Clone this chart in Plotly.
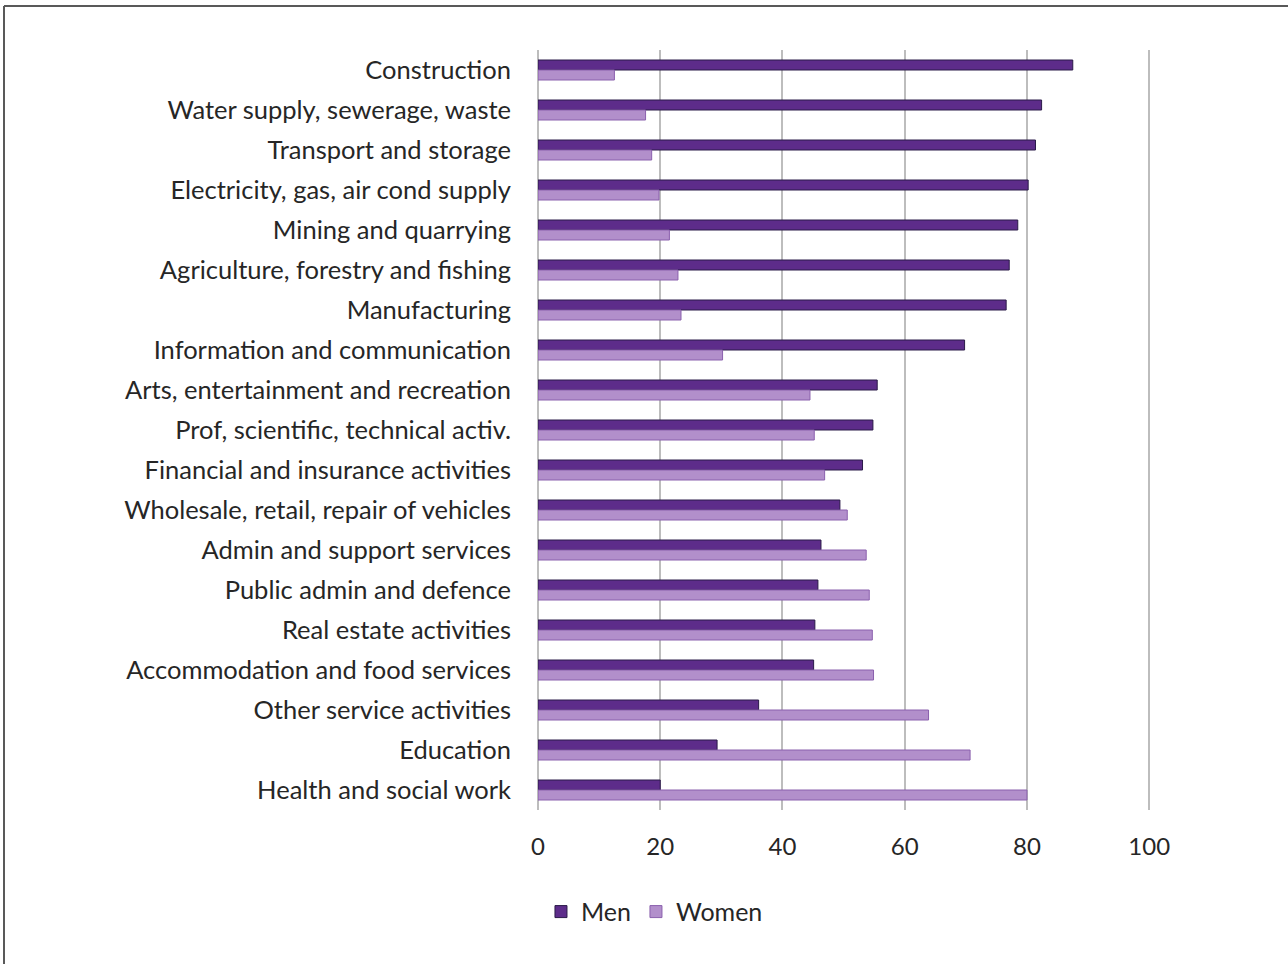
import plotly.graph_objects as go

categories = [
    "Construction",
    "Water supply, sewerage, waste",
    "Transport and storage",
    "Electricity, gas, air cond supply",
    "Mining and quarrying",
    "Agriculture, forestry and fishing",
    "Manufacturing",
    "Information and communication",
    "Arts, entertainment and recreation",
    "Prof, scientific, technical activ.",
    "Financial and insurance activities",
    "Wholesale, retail, repair of vehicles",
    "Admin and support services",
    "Public admin and defence",
    "Real estate activities",
    "Accommodation and food services",
    "Other service activities",
    "Education",
    "Health and social work",
]
men = [87.5, 82.4, 81.4, 80.2, 78.5, 77.1, 76.6, 69.8, 55.5, 54.8,
       53.1, 49.4, 46.3, 45.8, 45.3, 45.1, 36.1, 29.3, 20.0]
women = [12.5, 17.6, 18.6, 19.8, 21.5, 22.9, 23.4, 30.2, 44.5, 45.2,
         46.9, 50.6, 53.7, 54.2, 54.7, 54.9, 63.9, 70.7, 80.0]
x_ticks = [0, 20, 40, 60, 80, 100]

FONT = "Lato, Open Sans, sans-serif"
TXT = "#262626"

fig = go.Figure()
fig.add_trace(go.Bar(
    y=categories, x=men, name="Men", orientation="h",
    marker=dict(color="#5d2c8a", line=dict(color="#2a1a48", width=1)),
))
fig.add_trace(go.Bar(
    y=categories, x=women, name="Women", orientation="h",
    marker=dict(color="#b28fcb", line=dict(color="#8a60ad", width=1)),
))

fig.update_layout(
    width=1288, height=964,
    margin=dict(l=538, r=137, t=50, b=154),
    paper_bgcolor="white", plot_bgcolor="white",
    barmode="group", bargap=0.5, bargroupgap=0,
    font=dict(family=FONT, color=TXT, size=24),
    legend=dict(orientation="h", x=0.19, xanchor="center", y=-0.134,
                yanchor="middle", font=dict(size=25, family=FONT, color=TXT),
                itemwidth=30, tracegroupgap=0),
    shapes=[
        dict(type="line", xref="paper", yref="paper",
             x0=-534/613, x1=(1288-538)/613, y0=1 + 44/760, y1=1 + 44/760,
             line=dict(color="#595959", width=2)),
        dict(type="line", xref="paper", yref="paper",
             x0=-534/613, x1=-534/613, y0=1 + 44/760, y1=-154/760,
             line=dict(color="#595959", width=2)),
    ],
)
fig.update_xaxes(
    range=[0, 100.3], tickvals=x_ticks, ticktext=[str(v) for v in x_ticks],
    showgrid=True, gridcolor="#bdbdbd", gridwidth=2,
    zeroline=True, zerolinecolor="#bdbdbd", zerolinewidth=2,
    showline=False, ticks="", ticklabelstandoff=20,
    tickfont=dict(size=24, family=FONT, color=TXT),
)
fig.update_yaxes(
    autorange="reversed", showgrid=False, showline=False, ticks="",
    ticklabelstandoff=26, tickfont=dict(size=25.5, family=FONT, color=TXT),
)

fig.write_html("out.html", config={"displayModeBar": False},
               post_script="document.body.style.margin='0';document.body.style.padding='0';")
